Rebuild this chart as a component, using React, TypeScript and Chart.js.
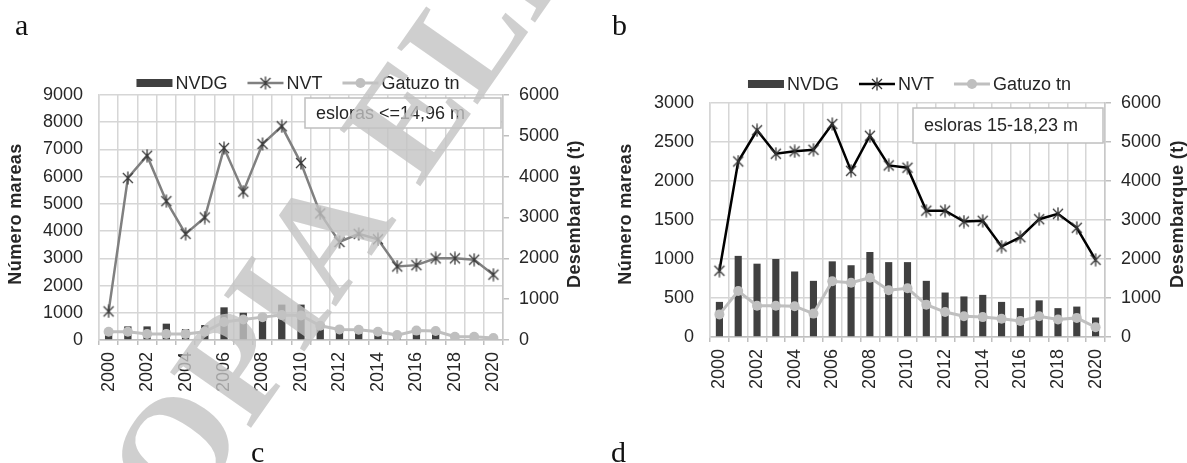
import React, { useEffect, useRef } from 'react';
import { Chart, registerables } from 'chart.js';

Chart.register(...registerables);

// ---------- data ----------
const years = ['2000', '2001', '2002', '2003', '2004', '2005', '2006', '2007', '2008', '2009', '2010',
  '2011', '2012', '2013', '2014', '2015', '2016', '2017', '2018', '2019', '2020'];

// panel a: esloras <= 14,96 m
const nvdgA = [200, 500, 500, 600, 400, 550, 1200, 1000, 950, 1300, 1300, 550, 350, 300, 200, 100, 250, 250, 30, 30, 20];
const nvtA = [1050, 5950, 6770, 5100, 3900, 4500, 7050, 5450, 7200, 7850, 6500, 4650, 3600, 3900, 3700, 2700, 2750, 3000, 3000, 2950, 2400];
const gatuzoA = [200, 200, 150, 150, 150, 200, 440, 500, 560, 610, 600, 350, 260, 250, 200, 120, 230, 220, 80, 80, 50];

// panel b: esloras 15-18,23 m
const nvdgB = [450, 1040, 940, 1000, 840, 720, 970, 920, 1090, 960, 960, 720, 570, 520, 540, 450, 370, 470, 370, 390, 250];
const nvtB = [850, 2250, 2650, 2350, 2380, 2400, 2730, 2130, 2580, 2200, 2170, 1620, 1620, 1480, 1490, 1160, 1280, 1510, 1580, 1400, 990];
const gatuzoB = [580, 1180, 800, 800, 790, 600, 1430, 1390, 1520, 1200, 1250, 830, 640, 530, 510, 470, 410, 530, 450, 490, 250];

const leftMaxA = 9000;
const leftStepA = 1000;
const leftMaxB = 3000;
const leftStepB = 500;
const rightMax = 6000;
const rightStep = 1000;

const seriesNames = ['NVDG', 'NVT', 'Gatuzo tn'];
const axisTitles = ['Número mareas', 'Desembarque (t)'];
const notes = ['esloras <=14,96 m', 'esloras 15-18,23 m'];
const watermarkText = 'COPIA ELECTRÓNICA';

// ---------- styling ----------
const FONT = '"Liberation Sans", Arial, sans-serif';
const BAR_COLOR = '#404040';
const GAT_COLOR = '#bfbfbf';
const GRID = '#d6d6d6';
const TEXT = '#262626';

function makeStar(color: string): HTMLCanvasElement {
  const c = document.createElement('canvas');
  c.width = 14;
  c.height = 14;
  const g = c.getContext('2d')!;
  g.strokeStyle = color;
  g.lineWidth = 1.3;
  g.beginPath();
  g.moveTo(2, 2); g.lineTo(12, 12);
  g.moveTo(12, 2); g.lineTo(2, 12);
  g.moveTo(7, 0.5); g.lineTo(7, 13.5);
  g.stroke();
  return c;
}

type PanelProps = {
  left: number;
  width: number;
  height: number;
  plotTop: number;
  axisLeftW: number;
  axisRightW: number;
  xAxisH: number;
  nvdg: number[];
  nvt: number[];
  gatuzo: number[];
  leftMax: number;
  leftStep: number;
  nvtLine: string;
  nvtMarker: string;
  legendX: number;
  legendY: number;
  leftTitleX: number;
  rightTitleX: number;
  titleY: number;
  note: string;
  noteBox: [number, number, number, number];
};

function Panel(p: PanelProps) {
  const ref = useRef<HTMLCanvasElement | null>(null);

  useEffect(() => {
    if (!ref.current) return;
    const star = makeStar(p.nvtMarker);

    const overlay = {
      id: 'overlay',
      afterDraw(chart: any) {
        const ctx: CanvasRenderingContext2D = chart.ctx;
        ctx.save();
        // axis titles (both read bottom-to-top)
        ctx.font = `bold 18px ${FONT}`;
        ctx.fillStyle = TEXT;
        ctx.textAlign = 'center';
        ctx.textBaseline = 'middle';
        try { (ctx as any).letterSpacing = '0.4px'; } catch (e) { /* ignore */ }
        [p.leftTitleX, p.rightTitleX].forEach((x, i) => {
          ctx.save();
          ctx.translate(x, p.titleY);
          ctx.rotate(-Math.PI / 2);
          ctx.fillText(axisTitles[i], 0, 0);
          ctx.restore();
        });
        try { (ctx as any).letterSpacing = '0px'; } catch (e) { /* ignore */ }

        // note box
        const [bx, by, bw, bh] = p.noteBox;
        ctx.fillStyle = '#ffffff';
        ctx.fillRect(bx, by, bw, bh);
        ctx.strokeStyle = '#bfbfbf';
        ctx.lineWidth = 1.5;
        ctx.strokeRect(bx, by, bw, bh);
        ctx.font = `18px ${FONT}`;
        ctx.fillStyle = TEXT;
        ctx.textAlign = 'left';
        ctx.fillText(p.note, bx + 11, by + bh / 2 + 1);

        // legend
        const symW = 36;
        const gapText = 3;
        const gapItem = 20;
        ctx.font = `18px ${FONT}`;
        const widths = seriesNames.map((t) => symW + gapText + ctx.measureText(t).width);
        const total = widths.reduce((a, b) => a + b, 0) + gapItem * (seriesNames.length - 1);
        let x = p.legendX - total / 2;
        const cy = p.legendY;
        seriesNames.forEach((name, i) => {
          if (i === 0) {
            ctx.fillStyle = BAR_COLOR;
            ctx.fillRect(x, cy - 4, symW, 8);
          } else {
            const col = i === 1 ? p.nvtLine : GAT_COLOR;
            ctx.strokeStyle = col;
            ctx.lineWidth = i === 1 ? 2.5 : 3;
            ctx.beginPath();
            ctx.moveTo(x, cy);
            ctx.lineTo(x + symW, cy);
            ctx.stroke();
            if (i === 1) {
              ctx.drawImage(star, x + symW / 2 - 7, cy - 7);
            } else {
              ctx.fillStyle = GAT_COLOR;
              ctx.beginPath();
              ctx.arc(x + symW / 2, cy, 5, 0, Math.PI * 2);
              ctx.fill();
            }
          }
          ctx.fillStyle = TEXT;
          ctx.textAlign = 'left';
          ctx.textBaseline = 'middle';
          ctx.fillText(name, x + symW + gapText, cy + 1);
          x += widths[i] + gapItem;
        });
        ctx.restore();
      },
    };

    const tickFont = { family: FONT, size: 18 };
    const plain = (v: any) => String(v);

    const chart = new Chart(ref.current, {
      type: 'bar',
      data: {
        labels: years,
        datasets: [
          {
            type: 'line',
            label: seriesNames[1],
            data: p.nvt,
            yAxisID: 'y',
            borderColor: p.nvtLine,
            backgroundColor: p.nvtLine,
            borderWidth: 2.5,
            pointStyle: star as any,
            pointRadius: 7,
            tension: 0,
            order: 0,
          } as any,
          {
            type: 'line',
            label: seriesNames[2],
            data: p.gatuzo,
            yAxisID: 'y2',
            borderColor: GAT_COLOR,
            backgroundColor: GAT_COLOR,
            borderWidth: 3,
            pointStyle: 'circle',
            pointRadius: 5,
            pointBorderWidth: 0,
            tension: 0,
            order: 1,
          } as any,
          {
            type: 'bar',
            label: seriesNames[0],
            data: p.nvdg,
            yAxisID: 'y',
            backgroundColor: BAR_COLOR,
            barPercentage: 0.38,
            categoryPercentage: 1,
            order: 2,
          } as any,
        ],
      },
      options: {
        responsive: false,
        animation: false,
        layout: { padding: { top: p.plotTop, left: 0, right: 0, bottom: 0 } },
        plugins: { legend: { display: false }, tooltip: { enabled: false } },
        scales: {
          x: {
            offset: true,
            grid: { offset: true, color: GRID, lineWidth: 1.5, drawTicks: true, tickLength: 5, tickColor: '#bfbfbf' },
            border: { color: '#bfbfbf', width: 1.5 },
            ticks: {
              autoSkip: false,
              maxRotation: 90,
              minRotation: 90,
              padding: 7,
              font: tickFont,
              color: TEXT,
              callback: (_v: any, i: number) => (i % 2 === 0 ? years[i] : ''),
            },
            afterFit: (s: any) => { s.height = p.xAxisH; },
          },
          y: {
            position: 'left',
            min: 0,
            max: p.leftMax,
            ticks: { stepSize: p.leftStep, padding: 16, font: tickFont, color: TEXT, callback: plain },
            grid: { color: GRID, lineWidth: 1.5, drawTicks: false },
            border: { display: true, color: GRID, width: 1.5 },
            afterFit: (s: any) => { s.width = p.axisLeftW; },
          },
          y2: {
            position: 'right',
            min: 0,
            max: rightMax,
            ticks: { stepSize: rightStep, padding: 10, font: tickFont, color: TEXT, callback: plain },
            grid: { drawOnChartArea: false, drawTicks: true, tickLength: 6, color: '#bfbfbf', lineWidth: 1.5 },
            border: { display: true, color: '#c8c8c8', width: 1.5 },
            afterFit: (s: any) => { s.width = p.axisRightW; },
          },
        },
      } as any,
      plugins: [overlay],
    });
    return () => chart.destroy();
  }, []);

  return (
    <canvas
      ref={ref}
      width={p.width}
      height={p.height}
      style={{ position: 'absolute', left: p.left, top: 0, width: p.width, height: p.height }}
    />
  );
}

// diagonal grey watermark lying over the left panel
function Watermark() {
  const ref = useRef<HTMLCanvasElement | null>(null);
  useEffect(() => {
    const c = ref.current;
    if (!c) return;
    const ctx = c.getContext('2d')!;
    ctx.clearRect(0, 0, c.width, c.height);
    ctx.save();
    ctx.translate(120, 615);
    ctx.rotate(-55 * Math.PI / 180);
    ctx.font = 'bold 150px "Liberation Serif", "Times New Roman", serif';
    ctx.textBaseline = 'alphabetic';
    ctx.textAlign = 'left';
    ctx.fillStyle = 'rgba(195,195,195,0.8)';
    ctx.fillText(watermarkText, 0, 0);
    ctx.restore();
  }, []);
  return (
    <canvas
      ref={ref}
      width={1187}
      height={463}
      style={{ position: 'absolute', left: 0, top: 0, width: 1187, height: 463, pointerEvents: 'none' }}
    />
  );
}

const letterStyle: React.CSSProperties = {
  position: 'absolute',
  fontFamily: '"Liberation Serif", "Times New Roman", serif',
  fontSize: 30,
  lineHeight: '30px',
  color: '#111',
};

export default function App() {
  return (
    <div style={{ position: 'absolute', left: 0, top: 0, width: 1187, height: 463, background: '#fff', overflow: 'hidden' }}>
      <Panel
        left={0}
        width={600}
        height={463}
        plotTop={95}
        axisLeftW={99}
        axisRightW={97}
        xAxisH={123}
        nvdg={nvdgA}
        nvt={nvtA}
        gatuzo={gatuzoA}
        leftMax={leftMaxA}
        leftStep={leftStepA}
        nvtLine="#808080"
        nvtMarker="#3a3a3a"
        legendX={298}
        legendY={83}
        leftTitleX={16}
        rightTitleX={575}
        titleY={214}
        note={notes[0]}
        noteBox={[305, 98, 196, 30]}
      />
      <Panel
        left={600}
        width={587}
        height={463}
        plotTop={103}
        axisLeftW={110}
        axisRightW={82}
        xAxisH={126}
        nvdg={nvdgB}
        nvt={nvtB}
        gatuzo={gatuzoB}
        leftMax={leftMaxB}
        leftStep={leftStepB}
        nvtLine="#000000"
        nvtMarker="#333333"
        legendX={309.5}
        legendY={84}
        leftTitleX={26}
        rightTitleX={578}
        titleY={214}
        note={notes[1]}
        noteBox={[313, 108, 190, 35]}
      />
      <div style={{ ...letterStyle, left: 15, top: 10 }}>a</div>
      <div style={{ ...letterStyle, left: 612, top: 10 }}>b</div>
      <div style={{ ...letterStyle, left: 251, top: 437 }}>c</div>
      <div style={{ ...letterStyle, left: 611, top: 437 }}>d</div>
      <Watermark />
    </div>
  );
}
